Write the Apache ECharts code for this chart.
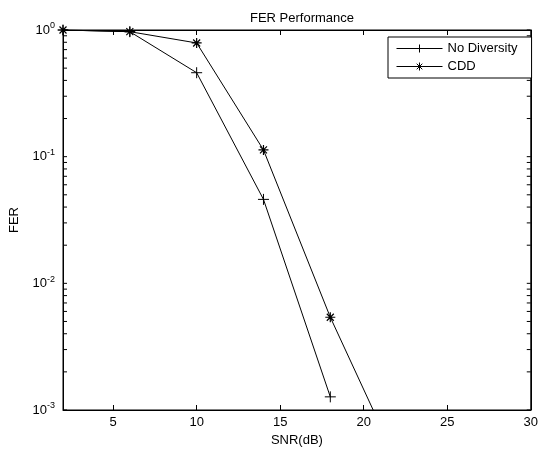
<!DOCTYPE html>
<html>
<head>
<meta charset="utf-8">
<script src="https://cdn.jsdelivr.net/npm/echarts@6/dist/echarts.min.js"></script>
<style>
html,body{margin:0;padding:0;background:#fff;}
#chart{width:541px;height:454px;}
</style>
</head>
<body>
<div id="chart"></div>
<script>
const snr = [2, 6, 10, 14, 18, 22];
const noDiversity = [1.0, 0.97, 0.46, 0.046, 0.00127, null];
const cdd = [1.0, 0.97, 0.79, 0.113, 0.0054, 0.00039];
const seriesNames = ['No Diversity', 'CDD'];
const xTickValues = [5, 10, 15, 20, 25];
const xLabelValues = [5, 10, 15, 20, 25, 30];
const yLabelValues = [0.001, 0.01, 0.1, 1];
const yTickValues = [];
[0.001, 0.01, 0.1].forEach(d => { for (let m = 1; m <= 9; m++) yTickValues.push(+(m * d).toPrecision(3)); });
yTickValues.push(1);
const xMin = 2, xMax = 30;

const font = 'Liberation Sans, Arial, sans-serif';
const plusPath = 'path://M0,-1L0,1M-1,0L1,0';
const starPath = 'path://M0,-1L0,1M-1,0L1,0M-0.7,-0.7L0.7,0.7M-0.7,0.7L0.7,-0.7';

function pairs(ys) { return snr.map((x, i) => [x, ys[i]]).filter(p => p[1] != null); }

const chart = echarts.init(document.getElementById('chart'), null, {renderer: 'canvas'});
const tickStyle = {lineStyle: {color: '#000', width: 1}};
chart.setOption({
  backgroundColor: '#fff',
  animation: false,
  textStyle: {fontFamily: font, color: '#000'},
  title: {
    text: 'FER Performance', left: 297, top: 7, textAlign: 'center',
    textStyle: {fontFamily: font, fontSize: 13, fontWeight: 'normal', color: '#000'}
  },
  grid: {left: 62.7, right: 8.3, top: 30, bottom: 44, show: true, borderColor: '#000', borderWidth: 1, backgroundColor: '#fff'},
  legend: {
    data: seriesNames, orient: 'vertical', left: 388, top: 37,
    itemWidth: 46, itemHeight: 10, itemGap: 5,
    padding: [5, 14, 5, 8],
    borderColor: '#000', borderWidth: 1, backgroundColor: '#fff',
    lineStyle: {width: 1, color: '#000'},
    itemStyle: {borderWidth: 1, borderColor: '#000', color: '#000'},
    textStyle: {fontFamily: font, fontSize: 13, color: '#000'}
  },
  xAxis: [{
    type: 'value', min: xMin, max: xMax, position: 'bottom',
    name: 'SNR(dB)', nameLocation: 'middle', nameGap: 23,
    nameTextStyle: {fontFamily: font, fontSize: 13, color: '#000'},
    axisLine: {show: true, lineStyle: {color: '#000'}},
    axisTick: {show: true, inside: true, length: 5, customValues: xTickValues, ...tickStyle},
    axisLabel: {show: true, customValues: xLabelValues, margin: 6, fontFamily: font, fontSize: 13, color: '#000'},
    splitLine: {show: false}
  }, {
    type: 'value', min: xMin, max: xMax, position: 'top',
    axisLine: {show: true, lineStyle: {color: '#000'}},
    axisTick: {show: true, inside: true, length: 5, customValues: xTickValues, ...tickStyle},
    axisLabel: {show: false},
    splitLine: {show: false}
  }],
  yAxis: [{
    type: 'log', min: 0.001, max: 1, logBase: 10, position: 'left',
    name: 'FER', nameLocation: 'middle', nameGap: 42, nameRotate: 90,
    nameTextStyle: {fontFamily: font, fontSize: 13, color: '#000'},
    axisLine: {show: true, lineStyle: {color: '#000'}},
    axisTick: {show: false},
    axisLabel: {
      show: true, customValues: yLabelValues, margin: 8,
      formatter: v => '10{s|' + Math.round(Math.log10(v)) + '}',
      fontFamily: font, fontSize: 13, color: '#000',
      rich: {s: {fontSize: 9, verticalAlign: 'top', padding: [0, 0, 8, 0], fontFamily: font, color: '#000'}}
    },
    splitLine: {show: false}
  }, {
    type: 'log', min: 0.001, max: 1, logBase: 10, position: 'right',
    axisLine: {show: true, lineStyle: {color: '#000'}},
    axisTick: {show: false},
    axisLabel: {show: false},
    splitLine: {show: false}
  }],
  series: [{
    name: 'yticks', type: 'custom', silent: true, xAxisIndex: 0, yAxisIndex: 0,
    data: yTickValues.map(v => [xMin, v]),
    clip: false,
    renderItem: function (params, api) {
      const v = api.value(1);
      const l = api.coord([xMin, v]);
      const r = api.coord([xMax, v]);
      return {type: 'group', children: [
        {type: 'line', shape: {x1: l[0], y1: l[1], x2: l[0] + 4, y2: l[1]}, style: {stroke: '#000', lineWidth: 1}},
        {type: 'line', shape: {x1: r[0] - 4, y1: r[1], x2: r[0], y2: r[1]}, style: {stroke: '#000', lineWidth: 1}}
      ]};
    }
  }, {
    name: seriesNames[0], type: 'line', data: pairs(noDiversity),
    xAxisIndex: 0, yAxisIndex: 0,
    symbol: plusPath, symbolSize: 11, showSymbol: true, clip: true,
    lineStyle: {color: '#000', width: 1},
    itemStyle: {color: '#000', borderColor: '#000', borderWidth: 1}
  }, {
    name: seriesNames[1], type: 'line', data: pairs(cdd),
    xAxisIndex: 0, yAxisIndex: 0,
    symbol: starPath, symbolSize: 10, showSymbol: true, clip: true,
    lineStyle: {color: '#000', width: 1},
    itemStyle: {color: '#000', borderColor: '#000', borderWidth: 1.2}
  }]
});
</script>
</body>
</html>
